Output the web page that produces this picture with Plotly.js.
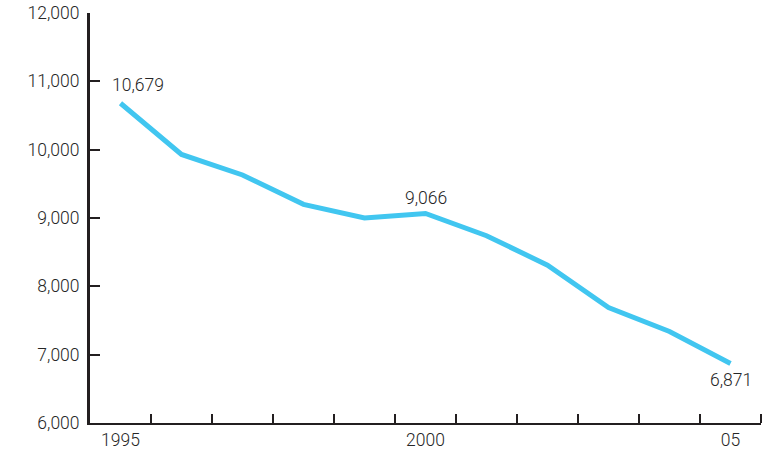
<!DOCTYPE html>
<html>
<head>
<meta charset="utf-8">
<script src="https://cdn.plot.ly/plotly-3.0.1.min.js"></script>
<style>html,body{margin:0;padding:0;background:#fff;}#chart{width:771px;height:450px;}</style>
</head>
<body>
<div id="chart"></div>
<script>
const years = [1995, 1996, 1997, 1998, 1999, 2000, 2001, 2002, 2003, 2004, 2005];
const values = [10679, 9930, 9630, 9200, 9000, 9066, 8740, 8310, 7690, 7340, 6871];
const xTickVals = [1995, 2000, 2005];
const xTickText = ['1995', '2000', '05'];
const yTickVals = [6000, 7000, 8000, 9000, 10000, 11000, 12000];
const labelIdx = [0, 5, 10];

const fontFam = 'Roboto, "Liberation Sans", Arial, sans-serif';
const axisColor = '#231f20';
const textColor = '#262626';
const fnt = {family: fontFam, size: 17.5, color: textColor, weight: 300};

const annotations = labelIdx.map((i, k) => ({
  x: years[i], y: values[i], xref: 'x', yref: 'y',
  text: values[i].toLocaleString('en-US'),
  showarrow: false,
  font: fnt,
  xanchor: 'center',
  yanchor: k === 2 ? 'top' : 'bottom',
  xshift: k === 0 ? 17 : 0,
  yshift: k === 0 ? 6 : (k === 1 ? 3 : -5)
}));

const trace = {
  x: years, y: values, type: 'scatter', mode: 'lines',
  line: {color: '#41c6f0', width: 5},
  hoverinfo: 'skip'
};

const layout = {
  width: 771, height: 450,
  margin: {l: 90, r: 10, t: 13, b: 27},
  paper_bgcolor: '#fff', plot_bgcolor: '#fff',
  showlegend: false,
  font: fnt,
  xaxis: {
    range: [years[0] - 0.5, years[years.length - 1] + 0.5],
    tickmode: 'array', tickvals: xTickVals, ticktext: xTickText,
    ticks: '', showgrid: false, zeroline: false,
    showline: true, linecolor: axisColor, linewidth: 2,
    ticklabelstandoff: 0,
    minor: {
      tickmode: 'array', tickvals: years.map(y => y + 0.5),
      ticks: 'inside', ticklen: 9, tickwidth: 2, tickcolor: axisColor, showgrid: false
    },
    tickfont: fnt
  },
  yaxis: {
    range: [6000, 12000],
    tickmode: 'array', tickvals: yTickVals,
    tickformat: ',d',
    ticks: 'inside', ticklen: 10, tickwidth: 2, tickcolor: axisColor,
    showgrid: false, zeroline: false,
    showline: true, linecolor: axisColor, linewidth: 3,
    ticklabelstandoff: 4,
    tickfont: fnt
  },
  annotations: annotations
};

Plotly.newPlot('chart', [trace], layout, {staticPlot: true, displayModeBar: false});
</script>
</body>
</html>
